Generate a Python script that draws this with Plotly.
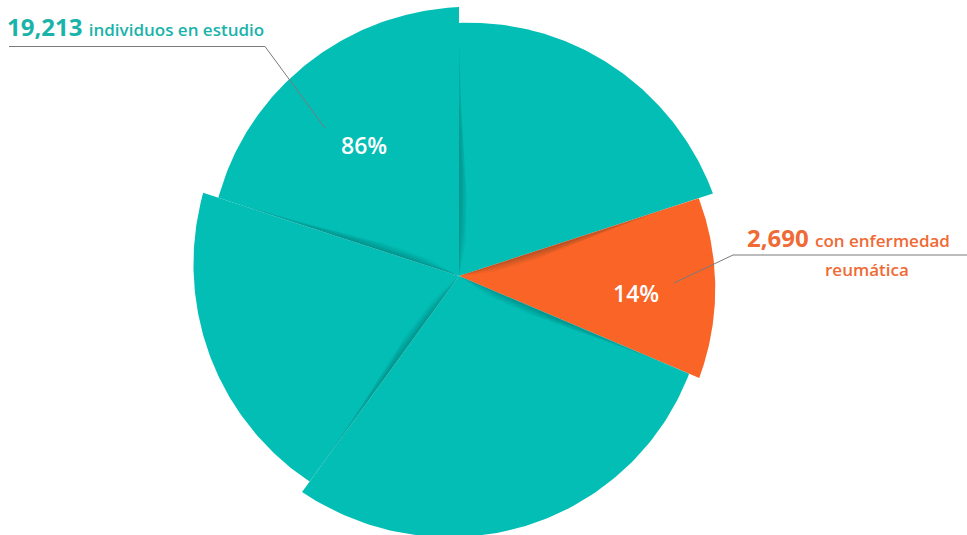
import numpy as np
import plotly.graph_objects as go

# ---- data ----
total_individuals = 19213          # "19,213 individuos en estudio"
rheum_cases = 2690                 # "2,690 con enfermedad reumática"
pct_labels = ["86%", "14%"]
# decorative pinwheel segments (degrees, clockwise from 12 o'clock), as drawn
segment_names = ["seg_a", "reumatica", "seg_c", "seg_b", "seg_d"]
segment_spans = [72, 41, 103, 72, 72]
segment_group = ["teal", "orange", "teal", "teal", "teal"]

# ---- style ----
TEAL = "#03BEB5"
ORANGE = "#FA6426"
TEAL_TXT = "#1AB3AA"
ORANGE_TXT = "#F06A35"
LINE = "#7A7A7A"
FONT = "Open Sans"
# spiral radii (start -> end of each segment) for the pinwheel look
r_start = [253, 252, 250, 254, 253]
r_end = [267, 261, 267, 269, 269]

W, H = 967, 535
CX, CY = 459, 276  # pie centre in pixels

fig = go.Figure()

def wedge(t0, t1, r0, r1, n=90):
    th = np.linspace(t0, t1, n)
    r = np.linspace(r0, r1, n)
    x = np.concatenate([[0], r * np.sin(np.radians(th)), [0]])
    y = np.concatenate([[0], r * np.cos(np.radians(th)), [0]])
    return x, y

def taper(t0, w, R):
    # thin shadow triangle along the leading edge, narrowing to the rim
    th = np.radians([t0, t0, t0 + w * 0.5, t0 + w, t0])
    r = np.array([0, R, R * 0.6, R * 0.25, 0])
    return r * np.sin(th), r * np.cos(th)

starts = np.concatenate([[0], np.cumsum(segment_spans)[:-1]])
for i, span in enumerate(segment_spans):
    t0 = starts[i]
    t1 = t0 + span
    col = TEAL if segment_group[i] == "teal" else ORANGE
    x, y = wedge(t0, t1, r_start[i], r_end[i])
    fig.add_trace(go.Scatter(x=x, y=y, mode="lines", fill="toself",
                             fillcolor=col, line=dict(width=0),
                             hoverinfo="skip", showlegend=False))
    # soft shadow along the leading edge of each segment
    for w, rf, a in [(2.0, 0.95, 0.08), (4.0, 0.85, 0.07), (7.0, 0.7, 0.06),
                     (11.0, 0.55, 0.05)]:
        xs, ys = taper(t0, w, r_start[i] * rf)
        fig.add_trace(go.Scatter(x=xs, y=ys, mode="lines", fill="toself",
                                 fillcolor=f"rgba(0,40,40,{a})",
                                 line=dict(width=0),
                                 hoverinfo="skip", showlegend=False))

# percentage labels at segment mid angles
mid_d = starts[4] + segment_spans[4] / 2
mid_o = starts[1] + segment_spans[1] / 2 + 3
for lab, ang, rad in [(pct_labels[0], mid_d, 162), (pct_labels[1], mid_o, 178)]:
    fig.add_annotation(x=rad * np.sin(np.radians(ang)), y=rad * np.cos(np.radians(ang)),
                       xref="x", yref="y", text=lab, showarrow=False,
                       font=dict(family=FONT, size=23, color="white", weight=600))

def px(X, Y):
    return X / W, 1 - Y / H

# teal callout
fig.add_annotation(x=px(5, 0)[0], y=px(0, 45)[1], xref="paper", yref="paper",
                   xanchor="left", yanchor="bottom", showarrow=False,
                   text=f"<b>{total_individuals:,}</b> <span style='font-size:17px'>individuos en estudio</span>",
                   font=dict(family=FONT, size=24, color=TEAL_TXT, weight=600))
fig.add_shape(type="line", xref="paper", yref="paper",
              x0=px(9, 0)[0], y0=px(0, 46.5)[1], x1=px(265, 0)[0], y1=px(0, 46.5)[1],
              line=dict(color=LINE, width=1))
fig.add_shape(type="line", xref="paper", yref="paper",
              x0=px(265, 0)[0], y0=px(0, 46.5)[1], x1=px(325, 0)[0], y1=px(0, 128)[1],
              line=dict(color=LINE, width=1))

# orange callout
fig.add_annotation(x=px(745, 0)[0], y=px(0, 256)[1], xref="paper", yref="paper",
                   xanchor="left", yanchor="bottom", showarrow=False,
                   text=f"<b>{rheum_cases:,}</b> <span style='font-size:17px'>con enfermedad</span>",
                   font=dict(family=FONT, size=24, color=ORANGE_TXT, weight=600))
fig.add_annotation(x=px(823, 0)[0], y=px(0, 269)[1], xref="paper", yref="paper",
                   xanchor="left", yanchor="middle", showarrow=False,
                   text="reumática",
                   font=dict(family=FONT, size=17, color=ORANGE_TXT, weight=600))
fig.add_shape(type="line", xref="paper", yref="paper",
              x0=px(733, 0)[0], y0=px(0, 255)[1], x1=px(967, 0)[0], y1=px(0, 255)[1],
              line=dict(color=LINE, width=1))
fig.add_shape(type="line", xref="paper", yref="paper",
              x0=px(733, 0)[0], y0=px(0, 255)[1], x1=px(674, 0)[0], y1=px(0, 283)[1],
              line=dict(color=LINE, width=1))

fig.update_layout(
    width=W, height=H,
    margin=dict(l=0, r=0, t=0, b=0),
    paper_bgcolor="white", plot_bgcolor="white",
    showlegend=False,
    xaxis=dict(range=[-CX, W - CX], visible=False, fixedrange=True),
    yaxis=dict(range=[-(H - CY), CY], visible=False, fixedrange=True),
)

fig.write_html("out.html")
